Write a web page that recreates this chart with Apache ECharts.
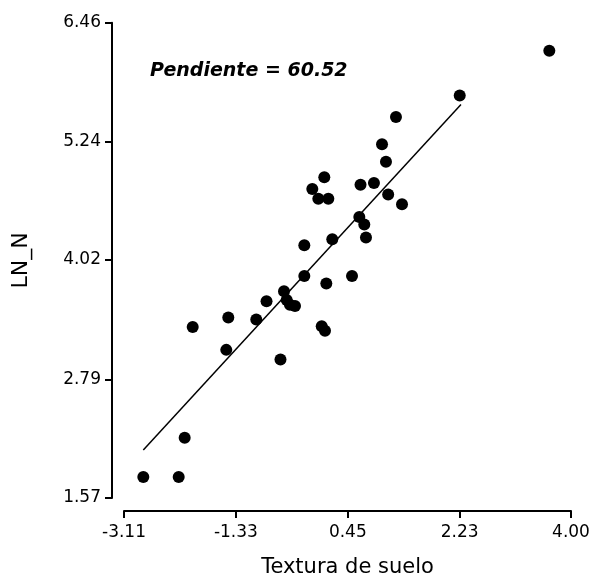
<!DOCTYPE html>
<html>
<head>
<meta charset="utf-8">
<script src="https://cdn.jsdelivr.net/npm/echarts@6/dist/echarts.min.js"></script>
<style>html,body{margin:0;padding:0;background:#fff}#c{width:594px;height:583px}</style>
</head>
<body>
<div id="c"></div>
<script>
// Data
var xTicks = [-3.11, -1.33, 0.45, 2.23, 4.00];
var yTicks = [1.57, 2.79, 4.02, 5.24, 6.46];
var xName = "Textura de suelo";
var yName = "LN_N";
var annotation = "Pendiente = 60.52";

var textura = [-2.803, -2.240, -2.145, -2.017, -1.451, -1.483, -1.006, -0.843, -0.621, -0.565,
               -0.522, -0.470, -0.390, -0.242, -0.242, -0.115, -0.019, 0.076, 0.140, 0.035,
               0.087, 0.108, 0.203, 0.517, 0.633, 0.712, 0.739, 0.652, 0.866, 1.092,
               1.312, 1.057, 0.994, 1.216, 2.230, 3.655];
var lnN =     [1.785, 1.785, 2.191, 3.329, 3.428, 3.094, 3.407, 3.595, 2.994, 3.697,
               3.608, 3.557, 3.546, 3.855, 4.170, 4.750, 4.648, 4.870, 4.648, 3.336,
               3.291, 3.776, 4.232, 3.855, 4.461, 4.385, 4.249, 4.793, 4.811, 4.692,
               4.591, 5.029, 5.210, 5.489, 5.711, 6.171];
var fitX = [-2.803, 2.250];
var fitY = [2.064, 5.619];

var points = textura.map(function (x, i) { return [x, lnN[i]]; });
var fitLine = fitX.map(function (x, i) { return [x, fitY[i]]; });

var chart = echarts.init(document.getElementById('c'));
var labelFont = 'DejaVu Sans';
chart.setOption({
  animation: false,
  backgroundColor: '#fff',
  grid: { left: 124, right: 23, top: 22.7, bottom: 82, containLabel: false },
  xAxis: {
    type: 'value', min: xTicks[0], max: xTicks[xTicks.length - 1], offset: 13,
    name: xName, nameLocation: 'middle', nameGap: 46,
    nameTextStyle: { fontFamily: labelFont, fontSize: 21, color: '#000' },
    axisLine: { show: true, onZero: false, lineStyle: { color: '#000', width: 2 } },
    axisTick: { show: true, length: 7, lineStyle: { color: '#000', width: 2 }, customValues: xTicks },
    axisLabel: { show: true, margin: 13, fontFamily: labelFont, fontSize: 17, color: '#000',
      customValues: xTicks, formatter: function (v) { return v.toFixed(2); } },
    splitLine: { show: false }
  },
  yAxis: {
    type: 'value', min: yTicks[0], max: yTicks[yTicks.length - 1], offset: 12,
    name: yName, nameLocation: 'middle', nameGap: 80, nameRotate: 90,
    nameTextStyle: { fontFamily: labelFont, fontSize: 22, color: '#000' },
    axisLine: { show: true, onZero: false, lineStyle: { color: '#000', width: 2 } },
    axisTick: { show: true, length: 7, lineStyle: { color: '#000', width: 2 }, customValues: yTicks },
    axisLabel: { show: true, margin: 11, fontFamily: labelFont, fontSize: 17, color: '#000',
      customValues: yTicks, formatter: function (v) { return v.toFixed(2); } },
    splitLine: { show: false }
  },
  graphic: [{
    type: 'text', left: 150, top: 62,
    style: { text: annotation, fontFamily: labelFont, fontSize: 19, fontWeight: 'bold', fontStyle: 'italic', fill: '#000' }
  }],
  series: [
    { type: 'line', data: fitLine, showSymbol: false, symbol: 'none',
      lineStyle: { color: '#000', width: 1.5 }, z: 2, silent: true },
    { type: 'scatter', data: points, symbol: 'circle', symbolSize: 12,
      itemStyle: { color: '#000', opacity: 1 }, z: 3 }
  ]
});
</script>
</body>
</html>
